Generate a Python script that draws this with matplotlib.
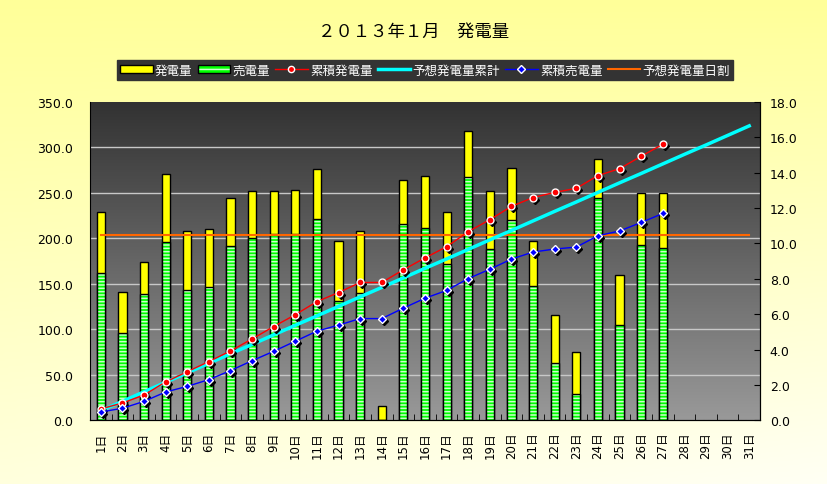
import numpy as np
import matplotlib
matplotlib.use("Agg")
import matplotlib.pyplot as plt
from matplotlib.patches import Patch
from matplotlib.lines import Line2D
from matplotlib.legend_handler import HandlerTuple
from matplotlib.transforms import offset_copy
from matplotlib.colors import LinearSegmentedColormap

plt.rcParams["font.family"] = ["DejaVu Sans", "Noto Sans CJK JP"]
plt.rcParams["hatch.linewidth"] = 1.1

# ---- data ----
days = list(range(1, 32))
day_labels = [f"{d}日" for d in days]

# daily generation / sold (left axis), days 1..27
gen = [229.2, 140.7, 174.3, 271.0, 208.4, 210.6, 244.6, 252.3, 252.3, 252.7,
       275.8, 196.7, 207.7, 15.4, 263.7, 268.1, 228.6, 317.6, 251.6, 276.9,
       196.7, 115.4, 74.7, 286.8, 159.3, 249.5, 250.1]
sold = [161.5, 95.6, 138.5, 196.3, 142.8, 146.9, 191.2, 200.0, 205.1, 205.0,
        220.9, 130.8, 139.6, 0.0, 216.0, 211.0, 171.4, 267.0, 187.9, 219.8,
        147.3, 62.6, 28.9, 244.3, 104.4, 192.3, 189.3]

# cumulative (right axis)
cum_gen = [0.64, 0.98, 1.43, 2.17, 2.75, 3.32, 3.92, 4.60, 5.30, 5.97,
           6.71, 7.22, 7.79, 7.79, 8.51, 9.18, 9.81, 10.66, 11.34, 12.09,
           12.59, 12.88, 13.11, 13.83, 14.22, 14.92, 15.60]
cum_sold = [0.47, 0.68, 1.07, 1.60, 1.92, 2.30, 2.81, 3.37, 3.90, 4.47,
            5.04, 5.38, 5.75, 5.75, 6.34, 6.90, 7.34, 8.01, 8.54, 9.11,
            9.51, 9.68, 9.79, 10.43, 10.70, 11.18, 11.69]
cum_forecast = [0.54, 1.07, 1.61, 2.15, 2.68, 3.22, 3.76, 4.29, 4.83, 5.37,
                5.90, 6.44, 6.98, 7.51, 8.05, 8.59, 9.12, 9.66, 10.20, 10.73,
                11.27, 11.81, 12.34, 12.88, 13.42, 13.95, 14.49, 15.03, 15.56,
                16.10, 16.64]
daily_forecast = [203.3] * 31

# ---- figure ----
fig = plt.figure(figsize=(8.27, 4.85), dpi=100)

# figure background gradient (yellow top -> near white bottom)
bg = fig.add_axes([0, 0, 1, 1], zorder=-10)
yy, xx = np.mgrid[0:1:200j, 0:1:200j]
g = np.clip(0.75 * yy + 0.25 * xx * yy, 0, 1)
bg_cmap = LinearSegmentedColormap.from_list("bgy", ["#FFFF99", "#FFFFF4"])
bg.imshow(g, cmap=bg_cmap, aspect="auto", extent=[0, 1, 0, 1], origin="upper")
bg.set_axis_off()

ax = fig.add_axes([0.1088, 0.1313, 0.8102, 0.6567])
x = np.array(days[:len(gen)])

# plot area gradient
grad = np.linspace(0, 1, 256).reshape(-1, 1)
pa_cmap = LinearSegmentedColormap.from_list("pa", ["#323232", "#999999"])
ax.imshow(grad, cmap=pa_cmap, aspect="auto", extent=[0, 1, 0, 1],
          transform=ax.transAxes, origin="upper", zorder=0)

for yv in [50, 100, 150, 200, 250, 300]:
    ax.axhline(yv, color="#C8C8C8", lw=1.0, zorder=1)

w = 0.38
ax.bar(x, gen, width=w, color="#FFFF00", edgecolor="black", lw=1.0, zorder=2)
ax.bar(x, sold, width=w, color="#00FF00", edgecolor="#CCFFCC", lw=0,
       hatch="-----", zorder=3)
ax.bar(x, sold, width=w, fill=False, edgecolor="black", lw=1.0, zorder=4)

ax.plot(days, daily_forecast, color="#FF6600", lw=1.5, zorder=5)

ax.set_xlim(0.5, 31.5)
ax.set_ylim(0, 350)
ax.set_yticks(np.arange(0, 351, 50))
ax.set_yticklabels([f"{v:.1f}" for v in np.arange(0, 351, 50)])
ax.set_xticks(days)
ax.set_xticklabels(day_labels, rotation=90, fontsize=8.5, va="top")
ax.set_xticks(np.arange(0.5, 32, 1), minor=True)
ax.tick_params(axis="x", which="major", length=0, pad=8)
ax.tick_params(axis="x", which="minor", direction="in", length=4, color="black")
ax.tick_params(axis="y", length=0, pad=12, labelsize=9)
ax.spines["top"].set_visible(False)
ax.spines["left"].set_color("black")
ax.spines["bottom"].set_color("black")

ax2 = ax.twinx()
ax2.set_ylim(0, 18)
ax2.set_yticks(np.arange(0, 18.1, 2))
ax2.set_yticklabels([f"{v:.1f}" for v in np.arange(0, 18.1, 2)])
ax2.tick_params(axis="y", direction="in", length=4, pad=7, labelsize=9)
ax2.spines["top"].set_visible(False)
ax2.spines["left"].set_visible(False)

ax2.plot(days, cum_forecast, color="#00FFFF", lw=2.5, zorder=3)

# black drop shadows under the markers
shadow = offset_copy(ax2.transData, fig=fig, x=2, y=-2, units="dots")
ax2.plot(x, cum_gen, ls="none", marker="D", ms=4.5, color="black",
         transform=shadow, zorder=4)
ax2.plot(x, cum_sold, ls="none", marker="D", ms=4.5, color="black",
         transform=shadow, zorder=4)
ax2.plot(x, cum_gen, color="#FF0000", lw=1.0, marker="o", ms=5,
         mfc="#FF0000", mec="white", mew=1.0, zorder=5)
ax2.plot(x, cum_sold, color="#0000FF", lw=1.0, marker="D", ms=4.5,
         mfc="#0000FF", mec="white", mew=1.0, zorder=5)

# ---- legend ----
h_gen = Patch(facecolor="#FFFF00", edgecolor="black", lw=1.0)
h_sold = (Patch(facecolor="#00FF00", edgecolor="#CCFFCC", hatch="---", lw=0),
          Patch(fill=False, edgecolor="black", lw=1.0))
h_cgen = Line2D([], [], color="#FF0000", lw=1.0, marker="o", ms=4.5,
                mfc="#FF0000", mec="white")
h_fc = Line2D([], [], color="#00FFFF", lw=2.5)
h_csold = Line2D([], [], color="#0000FF", lw=1.0, marker="D", ms=4.5,
                 mfc="#0000FF", mec="white")
h_daily = Line2D([], [], color="#FF6600", lw=1.5)
leg = fig.legend([h_gen, h_sold, h_cgen, h_fc, h_csold, h_daily],
                 ["発電量", "売電量", "累積発電量", "予想発電量累計", "累積売電量", "予想発電量日割"],
                 loc="center", bbox_to_anchor=(425 / 827, 1 - 71 / 485), ncol=6,
                 fontsize=9, handlelength=2.6, handleheight=0.6, handletextpad=0.2,
                 columnspacing=0.4, borderpad=0.25, fancybox=False,
                 facecolor="#333333", edgecolor="#333333", framealpha=1,
                 handler_map={tuple: HandlerTuple(ndivide=1)})
for t in leg.get_texts():
    t.set_color("white")

fig.text(0.5, 1 - 32 / 485, "２０１３年１月　発電量", ha="center", va="center",
         fontsize=12.5, family=["Noto Sans CJK JP", "DejaVu Sans"])

fig.savefig("out.png", dpi=100)
